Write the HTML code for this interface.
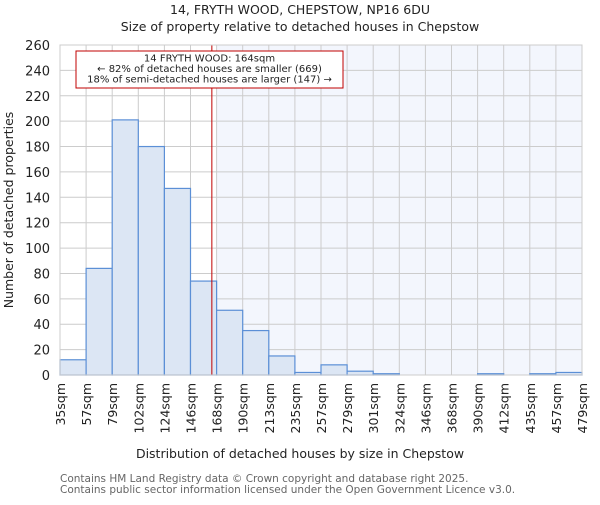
<!DOCTYPE html>
<html><head><meta charset="utf-8"><style>
body{margin:0;background:#fff;}
svg text{font-family:"DejaVu Sans","Liberation Sans",sans-serif;}
</style></head><body>
<svg id="chart" width="600" height="500">
<text x="300" y="14" text-anchor="middle" font-size="12.5" fill="#222">14, FRYTH WOOD, CHEPSTOW, NP16 6DU</text>
<text x="300" y="31" text-anchor="middle" font-size="12.5" fill="#222">Size of property relative to detached houses in Chepstow</text>
<g id="plot"></g>
<text x="300" y="458" text-anchor="middle" font-size="12.5" fill="#222">Distribution of detached houses by size in Chepstow</text>
<text transform="translate(13,210) rotate(-90)" text-anchor="middle" font-size="12.5" fill="#222">Number of detached properties</text>
<text x="60" y="482" font-size="10.5" fill="#666">Contains HM Land Registry data © Crown copyright and database right 2025.</text>
<text x="60" y="493" font-size="10.5" fill="#666">Contains public sector information licensed under the Open Government Licence v3.0.</text>
</svg>
<script>
const binLabels=["35sqm","57sqm","79sqm","102sqm","124sqm","146sqm","168sqm","190sqm","213sqm","235sqm","257sqm","279sqm","301sqm","324sqm","346sqm","368sqm","390sqm","412sqm","435sqm","457sqm","479sqm"];
const binEdges=[35,57,79,102,124,146,168,190,213,235,257,279,301,324,346,368,390,412,435,457,479];
const counts=[12,84,201,180,147,74,51,35,15,2,8,3,1,0,0,0,1,0,1,2];
const yTicks=[0,20,40,60,80,100,120,140,160,180,200,220,240,260];
const subjectSize=164;
const NS="http://www.w3.org/2000/svg";
const L=60,R=582,T=45,B=375,YMAX=260;
const nb=counts.length;
function xi(i){return L+(R-L)*i/nb;}
function xv(v){let i=0;while(i<nb-1&&v>binEdges[i+1])i++;return xi(i)+(v-binEdges[i])/(binEdges[i+1]-binEdges[i])*(R-L)/nb;}
function y(v){return B-(B-T)*v/YMAX;}
const g=document.getElementById('plot');
function mk(t,a){const e=document.createElementNS(NS,t);for(const k in a)e.setAttribute(k,a[k]);g.appendChild(e);return e;}
let e;
const sx=xv(subjectSize);
let shadeStart=xi(Math.ceil((sx-L)/((R-L)/nb)));
e=mk('rect',{x:shadeStart,y:T,width:R-shadeStart,height:B-T,fill:'#f3f6fd'});


yTicks.forEach(t=>{
e=mk('line',{x1:L,x2:R,y1:y(t),y2:y(t),stroke:'#cccccc','stroke-width':1});


e=mk('text',{x:L-10,y:y(t)+5,'text-anchor':'end','font-size':'13',fill:'#222'});
e.textContent=t;


});
binLabels.forEach((lb,i)=>{
e=mk('line',{x1:xi(i),x2:xi(i),y1:T,y2:B,stroke:'#cccccc','stroke-width':1});


const tx=xi(i)+5;
e=mk('text',{transform:`translate(${tx},${B+8}) rotate(-90)`,'text-anchor':'end','font-size':'12.5',fill:'#222'});
e.textContent=lb;


});
counts.forEach((c,i)=>{
e=mk('rect',{x:xi(i),y:y(c),width:xi(i+1)-xi(i),height:B-y(c),fill:'#dce6f4',stroke:'#5b8fd6','stroke-width':1.2});


});
e=mk('line',{x1:sx,x2:sx,y1:T,y2:B,stroke:'#c00000','stroke-width':1});


e=mk('rect',{x:76,y:51,width:267,height:37,fill:'#fff',stroke:'#c00000','stroke-width':1});


["14 FRYTH WOOD: 164sqm","← 82% of detached houses are smaller (669)","18% of semi-detached houses are larger (147) →"].forEach((s,i)=>{
e=mk('text',{x:209.5,y:61.5+i*10.5,'text-anchor':'middle','font-size':'10',fill:'#222'});
e.textContent=s;


});
e=mk('rect',{x:L,y:T,width:R-L,height:B-T,fill:'none',stroke:'#cccccc'});


</script>
</body></html>
